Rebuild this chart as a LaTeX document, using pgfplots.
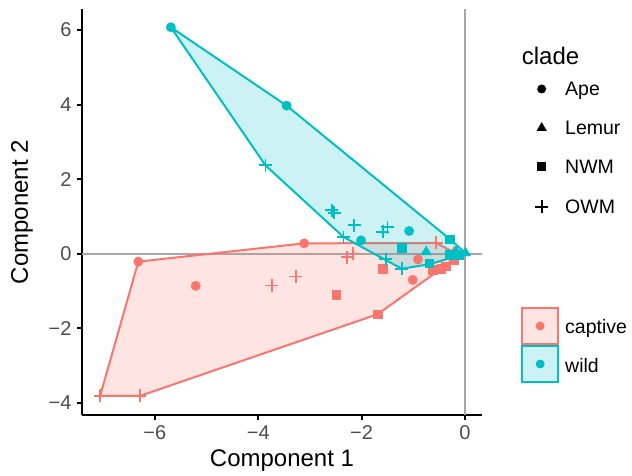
\documentclass[border=0pt]{standalone}
\usepackage{pgfplots}
\pgfplotsset{compat=1.18}
\usepackage{fontspec}
\setmainfont{Liberation Sans}
\definecolor{capcol}{HTML}{F8766D}
\definecolor{wilcol}{HTML}{00BFC4}
\definecolor{tickgray}{HTML}{4D4D4D}
\definecolor{zerogray}{HTML}{A8A8A8}
\pgfplotsset{
  ape/.style={only marks, mark=*, mark size=4.7pt, mark options={draw=none}},
  lem/.style={only marks, mark=triangle*, mark size=6pt, mark options={draw=none}},
  nwm/.style={only marks, mark=square*, mark size=4.4pt, mark options={draw=none}},
  owm/.style={only marks, mark=+, mark size=6.5pt, mark options={line width=1.8pt}},
}
\begin{document}
\begin{tikzpicture}
\useasboundingbox (-82pt,-61pt) rectangle (550pt,415pt);
\begin{axis}[
  scale only axis, width=400pt, height=406pt,
  at={(0,0)}, anchor=south west,
  xmin=-7.41, xmax=0.33, ymin=-4.32, ymax=6.56,
  axis x line*=bottom, axis y line*=left,
  axis line style={line width=2pt, black},
  tick align=outside, major tick length=5pt,
  tick style={line width=2pt, black},
  xtick={-6,-4,-2,0}, xticklabels={−6,−4,−2,0},
  ytick={-4,-2,0,2,4,6}, yticklabels={−4,−2,0,2,4,6},
  ticklabel style={font=\fontsize{20}{23}\selectfont, text=tickgray},
  xticklabel style={yshift=-2pt},
  yticklabel style={xshift=-2pt},
  xlabel={Component 1}, ylabel={Component 2},
  label style={font=\fontsize{24}{28}\selectfont},
  xlabel style={at={(axis description cs:0.5,0)}, anchor=base, yshift=-52pt},
  ylabel style={at={(axis description cs:-0.15,0.5)}, anchor=center},
  clip=true,
]
% zero reference lines
\addplot[zerogray, line width=2.2pt] coordinates {(-8,0) (1,0)};
\addplot[zerogray, line width=2.2pt] coordinates {(0,-5) (0,7)};
% hulls
\addplot[draw=capcol, line width=2pt, fill=capcol, fill opacity=0.2] coordinates {
 (-7.06,-3.81) (-6.29,-3.81) (-1.69,-1.62) (-0.46,-0.40) (-0.22,-0.15)
 (-0.21,0.04) (-0.56,0.29) (-3.11,0.28) (-6.32,-0.21)} -- cycle;
\addplot[draw=wilcol, line width=2pt, fill=wilcol, fill opacity=0.2] coordinates {
 (-5.69,6.07) (-3.45,3.97) (-0.29,0.39) (0.01,0.02) (-0.12,-0.05)
 (-0.69,-0.28) (-1.22,-0.40) (-1.53,-0.17) (-2.35,0.45) (-3.86,2.37)} -- cycle;
% captive points
\addplot[ape, color=capcol] coordinates {(-6.32,-0.21) (-3.11,0.28) (-5.21,-0.86) (-1.01,-0.70) (-0.91,-0.15)};
\addplot[lem, color=capcol] coordinates {(-0.21,0.04)};
\addplot[nwm, color=capcol] coordinates {(-2.49,-1.09) (-1.69,-1.62) (-1.59,-0.40) (-0.62,-0.43) (-0.46,-0.39) (-0.38,-0.33) (-0.22,-0.15)};
\addplot[owm, color=capcol] coordinates {(-7.06,-3.81) (-6.29,-3.81) (-3.74,-0.85) (-3.27,-0.61) (-2.28,-0.09) (-2.17,0.01) (-0.56,0.29)};
% wild points
\addplot[ape, color=wilcol] coordinates {(-5.69,6.07) (-3.45,3.97) (-2.01,0.36) (-1.08,0.61)};
\addplot[lem, color=wilcol] coordinates {(-0.75,0.05) (0.01,0.02) (-0.17,0.06)};
\addplot[nwm, color=wilcol] coordinates {(-0.29,0.39) (-1.22,0.16) (-0.69,-0.25) (-0.30,-0.02) (-0.12,-0.02)};
\addplot[owm, color=wilcol] coordinates {(-3.86,2.37) (-2.58,1.17) (-2.53,1.10) (-2.14,0.77) (-2.35,0.45) (-1.59,0.59) (-1.50,0.71) (-1.53,-0.15) (-1.22,-0.40)};
\end{axis}
% legend: clade
\node[anchor=base west, font=\fontsize{24}{28}\selectfont, inner sep=0pt] at (439.7pt,350pt) {clade};
\fill[black] (459.7pt,326pt) circle (4.5pt);
\fill[black] (459.7pt,293pt) -- (454.5pt,284pt) -- (464.9pt,284pt) -- cycle;
\fill[black] (455.2pt,243.5pt) rectangle (464.2pt,252.5pt);
\draw[black, line width=1.8pt] (453.2pt,208pt) -- (466.2pt,208pt) (459.7pt,201.5pt) -- (459.7pt,214.5pt);
\begin{scope}[every node/.style={anchor=base west, font=\fontsize{19.5}{22}\selectfont, inner sep=0pt}]
\node at (483pt,319pt) {Ape};
\node at (483pt,280pt) {Lemur};
\node at (483pt,241pt) {NWM};
\node at (483pt,201pt) {OWM};
\node at (483pt,81pt) {captive};
\node at (483pt,42pt) {wild};
\end{scope}
% legend: group
\filldraw[draw=capcol, line width=2pt, fill=capcol!20] (440.4pt,107pt) rectangle (476pt,71pt);
\fill[capcol] (458.2pt,89pt) circle (4.5pt);
\filldraw[draw=wilcol, line width=2pt, fill=wilcol!20] (440.4pt,69pt) rectangle (476pt,33pt);
\fill[wilcol] (458.2pt,51pt) circle (4.5pt);
\end{tikzpicture}
\end{document}
